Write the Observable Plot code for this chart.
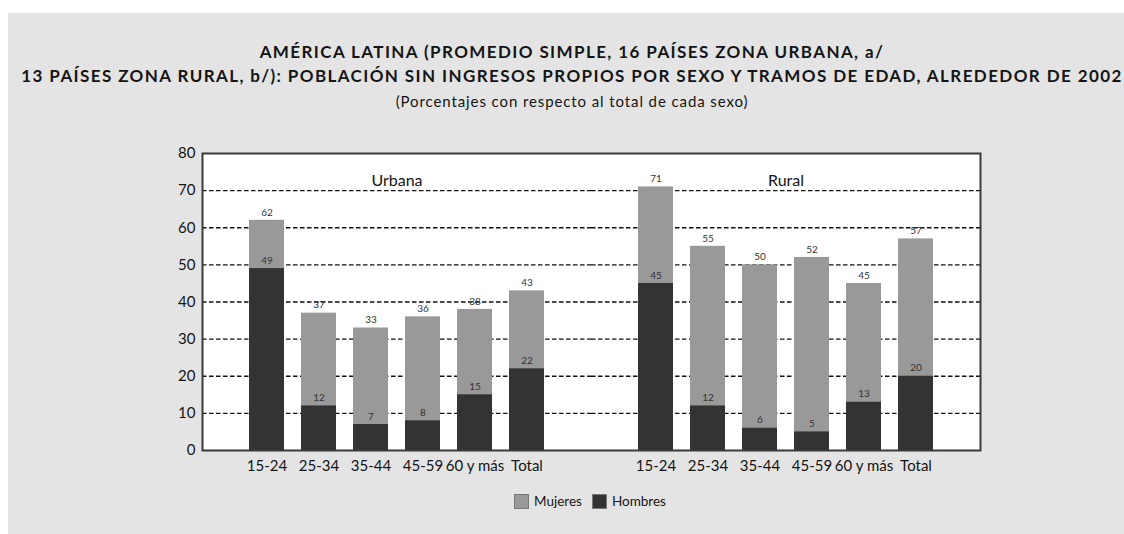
<!DOCTYPE html>
<html>
<head>
<meta charset="utf-8">
<script src="https://cdn.jsdelivr.net/npm/d3@7"></script>
<script src="https://cdn.jsdelivr.net/npm/@observablehq/plot@0.6"></script>
<style>
  html, body { margin: 0; padding: 0; background: #ffffff; }
  body { width: 1124px; height: 534px; position: relative; overflow: hidden; font-family: Lato, "DejaVu Sans", sans-serif; }
  #panel { position: absolute; left: 8px; top: 13px; width: 1116px; height: 521px; background: #e4e4e4; }
  .t { position: absolute; left: 6px; width: 1116px; text-align: center; white-space: nowrap; color: #141414; line-height: 20px; }
  #title1 { top: 29px; font-weight: 700; font-size: 17px; letter-spacing: 1.4px; }
  #title2 { top: 53px; font-weight: 700; font-size: 17px; letter-spacing: 1.4px; }
  #subtitle { top: 78px; font-size: 15px; letter-spacing: 0.9px; }
  #chart { position: absolute; left: 0; top: 107px; }
  #legend { position: absolute; left: 506px; top: 480px; display: flex; align-items: center; font-size: 13.5px; color: #141414; }
  #legend .sw { width: 15px; height: 15px; margin-right: 5px; box-sizing: border-box; border: 1px solid #777; }
  #legend .lab { margin-right: 10px; }
  #chart svg [aria-label="x-axis tick label"] text { font-size: 15px; }
</style>
</head>
<body>
<div id="panel">
  <div class="t" id="title1"></div>
  <div class="t" id="title2"></div>
  <div class="t" id="subtitle"></div>
  <div id="chart"></div>
  <div id="legend"></div>
</div>
<script>
// ---- data ----
const titleLines = [
  "AMÉRICA LATINA (PROMEDIO SIMPLE, 16 PAÍSES ZONA URBANA, a/",
  "13 PAÍSES ZONA RURAL, b/): POBLACIÓN SIN INGRESOS PROPIOS POR SEXO Y TRAMOS DE EDAD, ALREDEDOR DE 2002"
];
const subtitle = "(Porcentajes con respecto al total de cada sexo)";
const zonas = ["Urbana", "Rural"];
const tramos = ["15-24", "25-34", "35-44", "45-59", "60 y más", "Total"];
const mujeresUrbana = [62, 37, 33, 36, 38, 43];
const hombresUrbana = [49, 12, 7, 8, 15, 22];
const mujeresRural = [71, 55, 50, 52, 45, 57];
const hombresRural = [45, 12, 6, 5, 13, 20];
const yTicks = [0, 10, 20, 30, 40, 50, 60, 70, 80];
const gridTicks = [10, 20, 30, 40, 50, 60, 70];
const series = ["Mujeres", "Hombres"];
const colors = ["#999999", "#333333"];

// ---- build table ----
const rows = [];
zonas.forEach(z => {
  const m = z === "Urbana" ? mujeresUrbana : mujeresRural;
  const h = z === "Urbana" ? hombresUrbana : hombresRural;
  tramos.forEach((t, i) => rows.push({zona: z, tramo: t, mujeres: m[i], hombres: h[i]}));
});

document.getElementById("title1").textContent = titleLines[0];
document.getElementById("title2").textContent = titleLines[1];
document.getElementById("subtitle").textContent = subtitle;

const borderColor = "#3a3a3a";

const chart = Plot.plot({
  width: 1116,
  height: 400,
  marginLeft: 193,
  marginRight: 144,
  marginTop: 33,
  marginBottom: 70,
  style: {background: "transparent", fontFamily: "Lato, sans-serif", fontSize: "15px", color: "#141414"},
  fx: {domain: zonas, padding: 0, axis: null},
  x: {domain: tramos, paddingInner: 0.318, paddingOuter: 0.848, tickSize: 0, tickPadding: 10, label: null},
  y: {domain: [0, 80], ticks: yTicks, tickSize: 0, tickPadding: 7, label: null},
  marks: [
    Plot.frame({fill: "white", stroke: "none", facet: "super"}),
    Plot.ruleY(gridTicks, {stroke: "#111", strokeWidth: 1.4, strokeDasharray: "4.5,2.5"}),
    Plot.barY(rows, {fx: "zona", x: "tramo", y: "mujeres", fill: colors[0]}),
    Plot.barY(rows, {fx: "zona", x: "tramo", y: "hombres", fill: colors[1]}),
    Plot.text(rows, {fx: "zona", x: "tramo", y: "mujeres", text: d => String(d.mujeres), dy: -8, fontSize: 10, fill: "#333"}),
    Plot.text(rows, {fx: "zona", x: "tramo", y: "hombres", text: d => String(d.hombres), dy: -8, fontSize: 10, fill: "#333"}),
    Plot.text(zonas, {fx: d => d, text: d => d, frameAnchor: "top", dy: 21, fontSize: 16, fill: "#141414"}),
    Plot.frame({stroke: borderColor, strokeWidth: 2, facet: "super"})
  ]
});
document.getElementById("chart").appendChild(chart);

// legend
const legend = document.getElementById("legend");
series.forEach((s, i) => {
  const sw = document.createElement("span");
  sw.className = "sw";
  sw.style.background = colors[i];
  const lab = document.createElement("span");
  lab.className = "lab";
  lab.textContent = s;
  legend.appendChild(sw);
  legend.appendChild(lab);
});
</script>
</body>
</html>
